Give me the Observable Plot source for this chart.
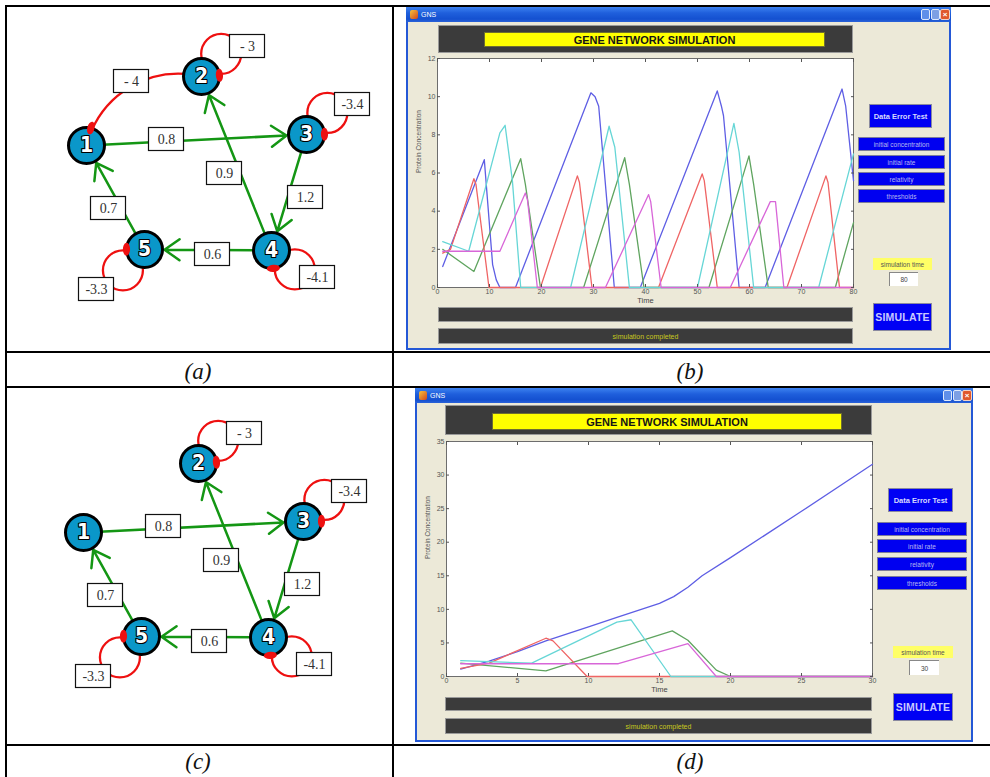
<!DOCTYPE html>
<html><head><meta charset="utf-8">
<script src="https://cdn.jsdelivr.net/npm/d3@7"></script>
<script src="https://cdn.jsdelivr.net/npm/@observablehq/plot@0.6"></script>
<style>
html,body{margin:0;padding:0;background:#fff}
#page{position:relative;width:990px;height:777px;overflow:hidden;background:#fff;font-family:"Liberation Sans",Arial,sans-serif}
.a{position:absolute;box-sizing:border-box}
.c{display:flex;align-items:center;justify-content:center;white-space:nowrap}
</style></head><body><div id="page"></div>
<script>
// ================= DATA =================
// Gene network (layout positions)
const nodeIds = [1, 2, 3, 4, 5];
const nodeX = [86, 201, 306, 271, 144];
const nodeY = [145, 76, 134, 250, 249];

// activating edges (green)
const actFrom = [1, 3, 4, 4, 5];
const actTo = [3, 4, 2, 5, 1];
const actWeight = ["0.8", "1.2", "0.9", "0.6", "0.7"];
const actLabelX = [166, 305, 224, 212, 108];
const actLabelY = [139, 197, 173, 254, 208];

// self-inhibition loops (red)
const loopNode = [2, 3, 4, 5];
const loopWeight = ["- 3", "-3.4", "-4.1", "-3.3"];
const loopAngle = [-49, -46, 39, 136];
const loopLabelX = [247, 352, 317, 96];
const loopLabelY = [46, 104, 277, 289];

// inhibitory edge between genes (red, only in network a)
const inhFrom = [2];
const inhTo = [1];
const inhWeight = ["- 4"];
const inhLabelX = [131];
const inhLabelY = [81];

// Simulation series (MATLAB default colour order)
const seriesNames = ["Gene 1", "Gene 2", "Gene 3", "Gene 4", "Gene 5"];
const seriesColors = ["#5e5ee4", "#5fa45f", "#ef6464", "#66d6d6", "#d866d8"];

// panel b : simulation time 80
const bGene1 = [[1,1.1],[9,6.7],[10.6,1.2],[11.3,0.4],[12,0],[15,0],[29.5,10.2],[30.3,10.0],[31,9.5],[34,0],[39,0],[53.8,10.3],[54.6,9.5],[55,9.0],[58,0],[63,0],[77.8,10.4],[78.5,9.5],[80,5.6]];
const bGene2 = [[1,2.0],[7,0.84],[16,6.75],[16.9,5.4],[19.8,0],[28.1,0],[36,6.8],[36.9,5.4],[39.7,0],[52.2,0],[59.9,6.9],[60.8,5.4],[63.6,0],[76.5,0],[80,3.4]];
const bGene3 = [[1,1.8],[2.5,2.0],[7,5.7],[7.4,5.4],[9.9,0],[19.8,0],[26.9,5.85],[27.3,5.5],[29.7,0],[42.5,0],[50.9,5.95],[51.3,5.6],[53.8,0],[67.2,0],[74.7,5.85],[75.1,5.5],[77.3,0],[80,0]];
const bGene4 = [[1,2.4],[6,1.9],[12,8.1],[13,8.5],[14.4,5.6],[16,0],[25.6,0],[33,8.45],[34.1,7.35],[36.9,0],[50,0],[57,8.6],[58,7.1],[60.8,0],[73.3,0],[80,7.0]];
const bGene5 = [[1,1.9],[12,1.9],[16.9,4.95],[17.3,4.6],[19.2,0],[32.3,0],[40.6,4.87],[41,4.5],[43,0],[56.3,0],[64,4.5],[65,4.5],[66.6,0],[80,0]];
const bXTicks = [0, 10, 20, 30, 40, 50, 60, 70, 80];
const bYTicks = [0, 2, 4, 6, 8, 10, 12];

// panel d : simulation time 30
const dGene1 = [[1,1.1],[3,2.3],[5,3.7],[7,5.3],[10,7.4],[12,8.8],[15,10.9],[16,11.9],[17,13.3],[18,15.0],[20,17.7],[25,24.6],[30,31.6]];
const dGene2 = [[1,2.0],[7,0.85],[15.9,6.8],[17,5.4],[19,0.95],[20,0],[30,0]];
const dGene3 = [[1,1.2],[3,2.0],[7,5.7],[7.5,5.3],[9.9,0],[30,0]];
const dGene4 = [[1,2.35],[6,2.0],[12,8.1],[13,8.45],[15.8,0],[30,0]];
const dGene5 = [[1,1.9],[12.1,1.9],[17,4.9],[19,0],[30,0]];
const dXTicks = [0, 5, 10, 15, 20, 25, 30];
const dYTicks = [0, 5, 10, 15, 20, 25, 30, 35];

const panelCaptions = ["(a)", "(b)", "(c)", "(d)"];
const guiTitle = "GENE NETWORK SIMULATION";
const guiButtons = ["initial concentration", "initial rate", "relativity", "thresholds"];

// ================= HELPERS =================
const page = document.getElementById("page");
function box(l, t, w, h, css = "", txt = "") {
  const e = document.createElement("div");
  e.className = "a c";
  e.style.cssText = `left:${l}px;top:${t}px;width:${w}px;height:${h}px;` + css;
  if (txt) e.textContent = txt;
  page.appendChild(e);
  return e;
}
const R = (r, css, txt) => box(r.l, r.t, r.r - r.l, r.b - r.t, css, txt);

// ================= NETWORK DIAGRAMS =================
const ellipseSymbol = {
  draw(ctx, size) {
    const r = Math.sqrt(size / Math.PI), rx = r, ry = r * 0.55, k = 0.5523;
    ctx.moveTo(rx, 0);
    ctx.bezierCurveTo(rx, ry * k, rx * k, ry, 0, ry);
    ctx.bezierCurveTo(-rx * k, ry, -rx, ry * k, -rx, 0);
    ctx.bezierCurveTo(-rx, -ry * k, -rx * k, -ry, 0, -ry);
    ctx.bezierCurveTo(rx * k, -ry, rx, -ry * k, rx, 0);
    ctx.closePath();
  }
};

function network(left, top, withInhibition) {
  const NR = 18, RED = "#ee1010", GREEN = "#149614", BEND = -45;
  const nodes = nodeIds.map((id, i) => ({id, x: nodeX[i], y: nodeY[i]}));
  const N = id => nodes[nodeIds.indexOf(id)];
  const acts = actFrom.map((f, i) => ({x1: N(f).x, y1: N(f).y, x2: N(actTo[i]).x, y2: N(actTo[i]).y}));
  const loops = loopNode.map((n, i) => {
    const a = loopAngle[i] * Math.PI / 180, m = a + 45 * Math.PI / 180;
    return {cx: N(n).x + 30 * Math.cos(a), cy: N(n).y + 30 * Math.sin(a),
            mx: N(n).x + NR * Math.cos(m), my: N(n).y + NR * Math.sin(m), rot: m * 180 / Math.PI + 90};
  });
  const inh = withInhibition ? inhFrom.map((f, i) => ({x1: N(f).x, y1: N(f).y, x2: N(inhTo[i]).x, y2: N(inhTo[i]).y})) : [];
  const inhMarks = inh.map(e => {
    const chord = Math.atan2(e.y2 - e.y1, e.x2 - e.x1);
    const head = chord + BEND * Math.PI / 180;
    return {mx: e.x2 - NR * Math.cos(head), my: e.y2 - NR * Math.sin(head), rot: head * 180 / Math.PI};
  });
  const labels = [
    ...actWeight.map((w, i) => ({w, x: actLabelX[i], y: actLabelY[i]})),
    ...loopWeight.map((w, i) => ({w, x: loopLabelX[i], y: loopLabelY[i]})),
    ...(withInhibition ? inhWeight.map((w, i) => ({w, x: inhLabelX[i], y: inhLabelY[i]})) : [])
  ];
  const svg = Plot.plot({
    width: 390, height: 345, margin: 0,
    x: {domain: [0, 390], range: [0, 390], axis: null},
    y: {domain: [0, 345], range: [0, 345], axis: null},
    style: {background: "transparent", overflow: "visible"},
    marks: [
      Plot.dot(loops, {x: "cx", y: "cy", r: 20, stroke: RED, strokeWidth: 2.3, fill: "none"}),
      Plot.arrow(inh, {x1: "x1", y1: "y1", x2: "x2", y2: "y2", bend: BEND, headLength: 0, insetStart: 16, insetEnd: 16, stroke: RED, strokeWidth: 2.3}),
      Plot.arrow(acts, {x1: "x1", y1: "y1", x2: "x2", y2: "y2", insetStart: 16, insetEnd: 20, headLength: 11, headAngle: 70, stroke: GREEN, strokeWidth: 2.5}),
      Plot.dot(nodes, {x: "x", y: "y", r: NR, fill: "#0a97c9", stroke: "#000", strokeWidth: 3}),
      Plot.dot(loops, {x: "mx", y: "my", r: 6.5, rotate: "rot", symbol: ellipseSymbol, fill: RED}),
      Plot.dot(inhMarks, {x: "mx", y: "my", r: 6.5, rotate: "rot", symbol: ellipseSymbol, fill: RED}),
      Plot.text(nodes, {x: "x", y: "y", text: d => String(d.id), fill: "white", stroke: "black", strokeWidth: 2.2, fontSize: 21, fontWeight: "bold",
        fontFamily: "'Liberation Sans Narrow','DejaVu Sans Condensed','DejaVu Sans',sans-serif"}),
      Plot.rect(labels, {x1: d => d.x - 17.5, x2: d => d.x + 17.5, y1: d => d.y - 11.5, y2: d => d.y + 11.5, fill: "white", stroke: "#111", strokeWidth: 1.2}),
      Plot.text(labels, {x: "x", y: "y", text: "w", fill: "#333", fontSize: 14, fontFamily: "'Liberation Serif','Times New Roman',serif"})
    ]
  });
  svg.style.position = "absolute";
  svg.style.left = left + "px";
  svg.style.top = top + "px";
  page.appendChild(svg);
}

// ================= LINE CHARTS =================
function lineChart(series, xTicks, yTicks, frame) {
  const mL = 30, mR = 14, mT = 6, mB = 22;
  const w = frame.r - frame.l + mL + mR, h = frame.b - frame.t + mT + mB;
  const data = series.flatMap((pts, i) => pts.map(([t, v]) => ({gene: seriesNames[i], t, v})));
  const hasAxis = typeof Plot.axisX === "function";
  const marks = [
    Plot.frame({fill: "white", stroke: "#6d6d6d", strokeWidth: 1}),
    Plot.line(data, {x: "t", y: "v", z: "gene", stroke: "gene", strokeWidth: 1.3})
  ];
  if (hasAxis) {
    marks.push(
      Plot.axisX(xTicks, {anchor: "bottom", tickSize: -3, tickPadding: 5, label: null, fontSize: 7}),
      Plot.axisX(xTicks, {anchor: "top", tickSize: -3, tickFormat: () => "", label: null}),
      Plot.axisY(yTicks, {anchor: "left", tickSize: -3, tickPadding: 5, label: null, fontSize: 7}),
      Plot.axisY(yTicks, {anchor: "right", tickSize: -3, tickFormat: () => "", label: null})
    );
  }
  marks.push(
    Plot.text(["Time"], {frameAnchor: "bottom", dy: 15, text: d => d, fontSize: 7.5, fill: "#444"}),
    Plot.text(["Protein Concentration"], {frameAnchor: "left", dx: -19, rotate: -90, text: d => d, fontSize: 6.5, fill: "#555"})
  );
  const svg = Plot.plot({
    width: w, height: h, marginLeft: mL, marginRight: mR, marginTop: mT, marginBottom: mB,
    x: Object.assign({domain: [xTicks[0], xTicks[xTicks.length - 1]]}, hasAxis ? {} : {ticks: xTicks, label: null, tickSize: 3}),
    y: Object.assign({domain: [yTicks[0], yTicks[yTicks.length - 1]]}, hasAxis ? {} : {ticks: yTicks, label: null, tickSize: 3}),
    color: {domain: seriesNames, range: seriesColors},
    style: {background: "transparent", fontFamily: "'Liberation Sans',Arial,sans-serif", fontSize: "7px", color: "#555", overflow: "visible"},
    marks
  });
  svg.style.position = "absolute";
  svg.style.left = (frame.l - mL) + "px";
  svg.style.top = (frame.t - mT) + "px";
  page.appendChild(svg);
}

// ================= GUI WINDOW CHROME =================
function guiWindow(g) {
  const W = g.win.r - g.win.l;
  R(g.win, "background:#ece9d8;border:2px solid #2458d6;border-top:none;");
  box(g.win.l, g.win.t, W, g.titleH, "background:linear-gradient(#3d82f0,#1f5fdc 40%,#1450d0 80%,#2a62d8);justify-content:flex-start;");
  box(g.win.l + 4, g.win.t + 3, 8, 9, "background:linear-gradient(135deg,#f7c23a,#d0461c);border-radius:2px;");
  box(g.win.l + 15, g.win.t, 30, g.titleH, "justify-content:flex-start;color:#fff;font:7px 'Liberation Sans',Arial;", "GNS");
  const [x1, x2, x3] = g.sys;
  box(x1, g.sysT, 9, 11, "background:#5f8fe9;border:1px solid #dfe9fb;border-radius:2px;");
  box(x2, g.sysT, 9, 11, "background:#7d9fe4;border:1px solid #dfe9fb;border-radius:2px;");
  box(x3, g.sysT, 10, 11, "background:#e0582c;border:1px solid #f3d2c4;border-radius:2px;color:#fff;font:bold 8px 'Liberation Sans';", "×");
  R(g.header, "background:#3b3b3b;border:1px solid #9a9a9a;");
  R(g.yellow, "background:#ffff00;border:1px solid #6e6e30;font:bold 11px 'Liberation Sans',Arial;color:#151515;", guiTitle);
  R(g.bar1, "background:#3b3b3b;border:1px solid #9a9a9a;");
  R(g.bar2, "background:#3b3b3b;border:1px solid #9a9a9a;color:#c8c81e;font:7px 'Liberation Sans',Arial;", "simulation completed");
  R(g.det, "background:#0000f4;border:1px solid #8a8aa0;color:#d8d8ff;font:bold 7.5px 'Liberation Sans',Arial;", "Data Error Test");
  g.btnTops.forEach((t, i) => box(g.btnL, t, g.btnR - g.btnL, 14, "background:#0000f0;border:1px solid #7c7c9c;color:#b8b8f0;font:6.5px 'Liberation Sans',Arial;", guiButtons[i]));
  R(g.simLabel, "background:#ffff66;color:#555;font:6.5px 'Liberation Sans',Arial;", "simulation time");
  R(g.input, "background:#fff;border-top:1px solid #888;border-left:1px solid #888;color:#444;font:6.5px 'Liberation Sans',Arial;", g.simTime);
  R(g.simulate, "background:#0000f4;border:1px solid #8a8aa0;color:#c8c8ff;font:bold 10.5px 'Liberation Sans',Arial;letter-spacing:0.2px;", "SIMULATE");
}

const winB = {
  win: {l: 406, t: 7, r: 951, b: 350}, titleH: 15, sys: [921, 931, 940], sysT: 9,
  header: {l: 438, t: 25, r: 853, b: 53}, yellow: {l: 484, t: 32, r: 825, b: 47},
  frame: {l: 437, t: 58, r: 853, b: 287},
  bar1: {l: 438, t: 307, r: 853, b: 322}, bar2: {l: 438, t: 328, r: 853, b: 344},
  det: {l: 869, t: 104, r: 932, b: 128}, btnL: 858, btnR: 945, btnTops: [137, 155, 172, 189],
  simLabel: {l: 873, t: 258, r: 932, b: 270}, input: {l: 889, t: 272, r: 918, b: 286},
  simulate: {l: 873, t: 303, r: 932, b: 331}, simTime: "80"
};
const winD = {
  win: {l: 415, t: 388, r: 973, b: 742}, titleH: 15, sys: [943, 953, 962], sysT: 390,
  header: {l: 445, t: 405, r: 872, b: 435}, yellow: {l: 492, t: 413, r: 842, b: 430},
  frame: {l: 446, t: 441, r: 872, b: 676},
  bar1: {l: 445, t: 697, r: 872, b: 711}, bar2: {l: 445, t: 718, r: 872, b: 734},
  det: {l: 888, t: 488, r: 953, b: 512}, btnL: 877, btnR: 967, btnTops: [522, 539, 557, 576],
  simLabel: {l: 893, t: 646, r: 953, b: 658}, input: {l: 909, t: 660, r: 939, b: 675},
  simulate: {l: 893, t: 693, r: 953, b: 721}, simTime: "30"
};

// ================= BUILD =================
network(0, 0, true);
network(-3, 387, false);
guiWindow(winB);
lineChart([bGene1, bGene2, bGene3, bGene4, bGene5], bXTicks, bYTicks, winB.frame);
guiWindow(winD);
lineChart([dGene1, dGene2, dGene3, dGene4, dGene5], dXTicks, dYTicks, winD.frame);

// table rules
const LINE = "background:#000;";
box(5, 5, 985, 2.3, LINE);
box(5, 351, 985, 2.3, LINE);
box(5, 385.7, 985, 2.3, LINE);
box(5, 743.5, 985, 2.3, LINE);
box(5, 5, 2.3, 772, LINE);
box(391.8, 5, 2.3, 772, LINE);

// captions
const capCss = "font:italic 23px 'Liberation Serif','Times New Roman',serif;color:#111;";
box(148, 358, 100, 28, capCss, panelCaptions[0]);
box(640, 358, 100, 28, capCss, panelCaptions[1]);
box(148, 748, 100, 28, capCss, panelCaptions[2]);
box(640, 748, 100, 28, capCss, panelCaptions[3]);
</script></body></html>
